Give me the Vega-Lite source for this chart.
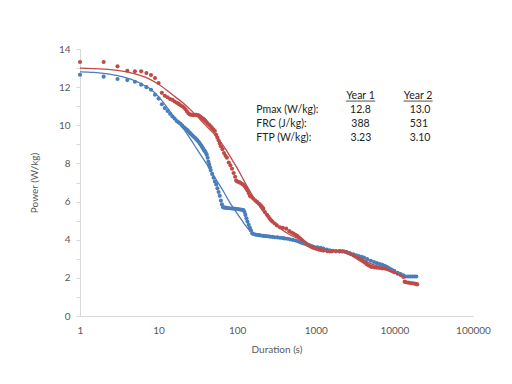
{
  "$schema": "https://vega.github.io/schema/vega-lite/v6.json",
  "width": 393,
  "height": 267,
  "autosize": {"type": "none"},
  "padding": {"left": 80, "top": 49, "right": 39, "bottom": 68},
  "background": "white",
  "config": {
    "view": {"stroke": null},
    "font": "Lato",
    "axis": {"grid": false, "labelFont": "Lato", "titleFont": "Lato", "labelColor": "#595959", "titleColor": "#595959", "labelFontSize": 10, "titleFontSize": 10, "titleFontWeight": "normal", "domainColor": "#d9d9d9", "tickColor": "#d9d9d9", "labelOverlap": false}
  },
  "datasets": {
    "pts": [
      {"year": "Year 1", "t": 1, "p": 12.65}, {"year": "Year 1", "t": 2, "p": 12.55}, {"year": "Year 1", "t": 3, "p": 12.43}, {"year": "Year 1", "t": 4, "p": 12.37}, {"year": "Year 1", "t": 5, "p": 12.28}, {"year": "Year 1", "t": 6, "p": 12.13}, {"year": "Year 1", "t": 7, "p": 12.0}, {"year": "Year 1", "t": 8, "p": 11.86}, {"year": "Year 1", "t": 9, "p": 11.6}, {"year": "Year 1", "t": 10, "p": 11.4},
      {"year": "Year 1", "t": 11, "p": 11.1}, {"year": "Year 1", "t": 12, "p": 10.9}, {"year": "Year 1", "t": 13, "p": 10.75}, {"year": "Year 1", "t": 14, "p": 10.6}, {"year": "Year 1", "t": 15, "p": 10.46}, {"year": "Year 1", "t": 16, "p": 10.35}, {"year": "Year 1", "t": 17, "p": 10.22}, {"year": "Year 1", "t": 18, "p": 10.15}, {"year": "Year 1", "t": 19, "p": 10.08}, {"year": "Year 1", "t": 20, "p": 9.98},
      {"year": "Year 1", "t": 21, "p": 9.9}, {"year": "Year 1", "t": 22, "p": 9.83}, {"year": "Year 1", "t": 23, "p": 9.76}, {"year": "Year 1", "t": 24, "p": 9.68}, {"year": "Year 1", "t": 25, "p": 9.6}, {"year": "Year 1", "t": 26, "p": 9.53}, {"year": "Year 1", "t": 27, "p": 9.46}, {"year": "Year 1", "t": 28, "p": 9.4}, {"year": "Year 1", "t": 29, "p": 9.34}, {"year": "Year 1", "t": 30, "p": 9.28},
      {"year": "Year 1", "t": 31, "p": 9.22}, {"year": "Year 1", "t": 32, "p": 9.15}, {"year": "Year 1", "t": 33, "p": 9.08}, {"year": "Year 1", "t": 34, "p": 9.0}, {"year": "Year 1", "t": 35, "p": 8.93}, {"year": "Year 1", "t": 36, "p": 8.85}, {"year": "Year 1", "t": 37, "p": 8.76}, {"year": "Year 1", "t": 38, "p": 8.68}, {"year": "Year 1", "t": 39, "p": 8.63}, {"year": "Year 1", "t": 40, "p": 8.55},
      {"year": "Year 1", "t": 41, "p": 8.45}, {"year": "Year 1", "t": 42, "p": 8.3}, {"year": "Year 1", "t": 43, "p": 8.1}, {"year": "Year 1", "t": 44, "p": 7.95}, {"year": "Year 1", "t": 45, "p": 7.8}, {"year": "Year 1", "t": 46, "p": 7.65}, {"year": "Year 1", "t": 48, "p": 7.45}, {"year": "Year 1", "t": 50, "p": 7.25}, {"year": "Year 1", "t": 52, "p": 7.05}, {"year": "Year 1", "t": 54, "p": 6.9},
      {"year": "Year 1", "t": 56, "p": 6.7}, {"year": "Year 1", "t": 58, "p": 6.5}, {"year": "Year 1", "t": 60, "p": 6.3}, {"year": "Year 1", "t": 62, "p": 6.05}, {"year": "Year 1", "t": 64, "p": 5.85}, {"year": "Year 1", "t": 66, "p": 5.7}, {"year": "Year 1", "t": 68, "p": 5.69}, {"year": "Year 1", "t": 70, "p": 5.68}, {"year": "Year 1", "t": 73, "p": 5.67}, {"year": "Year 1", "t": 76, "p": 5.66},
      {"year": "Year 1", "t": 80, "p": 5.65}, {"year": "Year 1", "t": 85, "p": 5.64}, {"year": "Year 1", "t": 90, "p": 5.63}, {"year": "Year 1", "t": 95, "p": 5.62}, {"year": "Year 1", "t": 100, "p": 5.61}, {"year": "Year 1", "t": 105, "p": 5.6}, {"year": "Year 1", "t": 110, "p": 5.58}, {"year": "Year 1", "t": 115, "p": 5.57}, {"year": "Year 1", "t": 120, "p": 5.55}, {"year": "Year 1", "t": 124, "p": 5.45},
      {"year": "Year 1", "t": 127, "p": 5.3}, {"year": "Year 1", "t": 131, "p": 5.12}, {"year": "Year 1", "t": 135, "p": 4.95}, {"year": "Year 1", "t": 140, "p": 4.78}, {"year": "Year 1", "t": 145, "p": 4.62}, {"year": "Year 1", "t": 150, "p": 4.48}, {"year": "Year 1", "t": 155, "p": 4.34}, {"year": "Year 1", "t": 160, "p": 4.3}, {"year": "Year 1", "t": 170, "p": 4.27}, {"year": "Year 1", "t": 180, "p": 4.25},
      {"year": "Year 1", "t": 190, "p": 4.24}, {"year": "Year 1", "t": 200, "p": 4.22}, {"year": "Year 1", "t": 215, "p": 4.2}, {"year": "Year 1", "t": 230, "p": 4.19}, {"year": "Year 1", "t": 245, "p": 4.18}, {"year": "Year 1", "t": 260, "p": 4.16}, {"year": "Year 1", "t": 280, "p": 4.15}, {"year": "Year 1", "t": 300, "p": 4.13}, {"year": "Year 1", "t": 325, "p": 4.12}, {"year": "Year 1", "t": 350, "p": 4.1},
      {"year": "Year 1", "t": 375, "p": 4.09}, {"year": "Year 1", "t": 400, "p": 4.07}, {"year": "Year 1", "t": 435, "p": 4.05}, {"year": "Year 1", "t": 470, "p": 4.02}, {"year": "Year 1", "t": 510, "p": 3.99}, {"year": "Year 1", "t": 550, "p": 3.96}, {"year": "Year 1", "t": 590, "p": 3.92}, {"year": "Year 1", "t": 630, "p": 3.87}, {"year": "Year 1", "t": 670, "p": 3.83}, {"year": "Year 1", "t": 720, "p": 3.79},
      {"year": "Year 1", "t": 780, "p": 3.74}, {"year": "Year 1", "t": 840, "p": 3.69}, {"year": "Year 1", "t": 900, "p": 3.65}, {"year": "Year 1", "t": 960, "p": 3.62}, {"year": "Year 1", "t": 1050, "p": 3.6}, {"year": "Year 1", "t": 1150, "p": 3.57}, {"year": "Year 1", "t": 1250, "p": 3.53}, {"year": "Year 1", "t": 1380, "p": 3.48}, {"year": "Year 1", "t": 1500, "p": 3.44}, {"year": "Year 1", "t": 1650, "p": 3.42},
      {"year": "Year 1", "t": 1800, "p": 3.41}, {"year": "Year 1", "t": 2000, "p": 3.4}, {"year": "Year 1", "t": 2200, "p": 3.39}, {"year": "Year 1", "t": 2450, "p": 3.35}, {"year": "Year 1", "t": 2700, "p": 3.3}, {"year": "Year 1", "t": 3000, "p": 3.23}, {"year": "Year 1", "t": 3250, "p": 3.18}, {"year": "Year 1", "t": 3500, "p": 3.14}, {"year": "Year 1", "t": 3800, "p": 3.1}, {"year": "Year 1", "t": 4100, "p": 3.06},
      {"year": "Year 1", "t": 4500, "p": 2.98}, {"year": "Year 1", "t": 5000, "p": 2.9}, {"year": "Year 1", "t": 5500, "p": 2.83}, {"year": "Year 1", "t": 6000, "p": 2.77}, {"year": "Year 1", "t": 6500, "p": 2.72}, {"year": "Year 1", "t": 7000, "p": 2.68}, {"year": "Year 1", "t": 7500, "p": 2.63}, {"year": "Year 1", "t": 8000, "p": 2.58}, {"year": "Year 1", "t": 8500, "p": 2.52}, {"year": "Year 1", "t": 9000, "p": 2.45},
      {"year": "Year 1", "t": 9500, "p": 2.4}, {"year": "Year 1", "t": 10000, "p": 2.35}, {"year": "Year 1", "t": 11000, "p": 2.27}, {"year": "Year 1", "t": 12000, "p": 2.2}, {"year": "Year 1", "t": 13000, "p": 2.13}, {"year": "Year 1", "t": 14000, "p": 2.07}, {"year": "Year 1", "t": 15000, "p": 2.07}, {"year": "Year 1", "t": 16000, "p": 2.07}, {"year": "Year 1", "t": 17000, "p": 2.07}, {"year": "Year 1", "t": 18000, "p": 2.07}, {"year": "Year 1", "t": 19000, "p": 2.07},
      {"year": "Year 2", "t": 1, "p": 13.32}, {"year": "Year 2", "t": 2, "p": 13.32}, {"year": "Year 2", "t": 3, "p": 13.09}, {"year": "Year 2", "t": 4, "p": 12.86}, {"year": "Year 2", "t": 5, "p": 12.83}, {"year": "Year 2", "t": 6, "p": 12.83}, {"year": "Year 2", "t": 7, "p": 12.74}, {"year": "Year 2", "t": 8, "p": 12.64}, {"year": "Year 2", "t": 9, "p": 12.48}, {"year": "Year 2", "t": 10, "p": 12.22},
      {"year": "Year 2", "t": 11, "p": 11.7}, {"year": "Year 2", "t": 12, "p": 11.55}, {"year": "Year 2", "t": 13, "p": 11.47}, {"year": "Year 2", "t": 14, "p": 11.38}, {"year": "Year 2", "t": 15, "p": 11.33}, {"year": "Year 2", "t": 16, "p": 11.25}, {"year": "Year 2", "t": 17, "p": 11.18}, {"year": "Year 2", "t": 18, "p": 11.12}, {"year": "Year 2", "t": 19, "p": 11.05}, {"year": "Year 2", "t": 20, "p": 11.0},
      {"year": "Year 2", "t": 21, "p": 10.93}, {"year": "Year 2", "t": 22, "p": 10.84}, {"year": "Year 2", "t": 23, "p": 10.72}, {"year": "Year 2", "t": 24, "p": 10.62}, {"year": "Year 2", "t": 25, "p": 10.57}, {"year": "Year 2", "t": 26, "p": 10.55}, {"year": "Year 2", "t": 27, "p": 10.55}, {"year": "Year 2", "t": 28, "p": 10.53}, {"year": "Year 2", "t": 29, "p": 10.55}, {"year": "Year 2", "t": 30, "p": 10.55},
      {"year": "Year 2", "t": 31, "p": 10.54}, {"year": "Year 2", "t": 32, "p": 10.52}, {"year": "Year 2", "t": 33, "p": 10.49}, {"year": "Year 2", "t": 34, "p": 10.45}, {"year": "Year 2", "t": 35, "p": 10.41}, {"year": "Year 2", "t": 36, "p": 10.37}, {"year": "Year 2", "t": 37, "p": 10.33}, {"year": "Year 2", "t": 38, "p": 10.3}, {"year": "Year 2", "t": 39, "p": 10.25}, {"year": "Year 2", "t": 40, "p": 10.2},
      {"year": "Year 2", "t": 42, "p": 10.1}, {"year": "Year 2", "t": 44, "p": 10.02}, {"year": "Year 2", "t": 46, "p": 9.95}, {"year": "Year 2", "t": 48, "p": 9.85}, {"year": "Year 2", "t": 50, "p": 9.78}, {"year": "Year 2", "t": 52, "p": 9.7}, {"year": "Year 2", "t": 54, "p": 9.5}, {"year": "Year 2", "t": 56, "p": 9.35}, {"year": "Year 2", "t": 58, "p": 9.2}, {"year": "Year 2", "t": 60, "p": 9.05},
      {"year": "Year 2", "t": 62, "p": 8.9}, {"year": "Year 2", "t": 65, "p": 8.75}, {"year": "Year 2", "t": 68, "p": 8.55}, {"year": "Year 2", "t": 71, "p": 8.4}, {"year": "Year 2", "t": 74, "p": 8.3}, {"year": "Year 2", "t": 78, "p": 8.05}, {"year": "Year 2", "t": 82, "p": 7.9}, {"year": "Year 2", "t": 86, "p": 7.72}, {"year": "Year 2", "t": 90, "p": 7.5}, {"year": "Year 2", "t": 94, "p": 7.3},
      {"year": "Year 2", "t": 97, "p": 7.1}, {"year": "Year 2", "t": 100, "p": 7.05}, {"year": "Year 2", "t": 105, "p": 7.02}, {"year": "Year 2", "t": 110, "p": 6.98}, {"year": "Year 2", "t": 115, "p": 6.93}, {"year": "Year 2", "t": 120, "p": 6.88}, {"year": "Year 2", "t": 125, "p": 6.8}, {"year": "Year 2", "t": 130, "p": 6.7}, {"year": "Year 2", "t": 135, "p": 6.58}, {"year": "Year 2", "t": 140, "p": 6.45},
      {"year": "Year 2", "t": 145, "p": 6.3}, {"year": "Year 2", "t": 150, "p": 6.25}, {"year": "Year 2", "t": 160, "p": 6.15}, {"year": "Year 2", "t": 170, "p": 6.05}, {"year": "Year 2", "t": 180, "p": 5.97}, {"year": "Year 2", "t": 190, "p": 5.88}, {"year": "Year 2", "t": 200, "p": 5.8}, {"year": "Year 2", "t": 210, "p": 5.7}, {"year": "Year 2", "t": 215, "p": 5.62}, {"year": "Year 2", "t": 225, "p": 5.45},
      {"year": "Year 2", "t": 240, "p": 5.3}, {"year": "Year 2", "t": 250, "p": 5.2}, {"year": "Year 2", "t": 260, "p": 5.1}, {"year": "Year 2", "t": 270, "p": 5.02}, {"year": "Year 2", "t": 280, "p": 4.95}, {"year": "Year 2", "t": 300, "p": 4.85}, {"year": "Year 2", "t": 320, "p": 4.75}, {"year": "Year 2", "t": 350, "p": 4.65}, {"year": "Year 2", "t": 380, "p": 4.62}, {"year": "Year 2", "t": 420, "p": 4.58},
      {"year": "Year 2", "t": 460, "p": 4.45}, {"year": "Year 2", "t": 490, "p": 4.38}, {"year": "Year 2", "t": 520, "p": 4.32}, {"year": "Year 2", "t": 550, "p": 4.26}, {"year": "Year 2", "t": 580, "p": 4.2}, {"year": "Year 2", "t": 610, "p": 4.12}, {"year": "Year 2", "t": 640, "p": 4.05}, {"year": "Year 2", "t": 670, "p": 3.97}, {"year": "Year 2", "t": 700, "p": 3.9}, {"year": "Year 2", "t": 740, "p": 3.82},
      {"year": "Year 2", "t": 780, "p": 3.75}, {"year": "Year 2", "t": 820, "p": 3.7}, {"year": "Year 2", "t": 860, "p": 3.65}, {"year": "Year 2", "t": 900, "p": 3.6}, {"year": "Year 2", "t": 950, "p": 3.56}, {"year": "Year 2", "t": 1020, "p": 3.52}, {"year": "Year 2", "t": 1100, "p": 3.48}, {"year": "Year 2", "t": 1180, "p": 3.45}, {"year": "Year 2", "t": 1250, "p": 3.43}, {"year": "Year 2", "t": 1400, "p": 3.4},
      {"year": "Year 2", "t": 1500, "p": 3.39}, {"year": "Year 2", "t": 1600, "p": 3.39}, {"year": "Year 2", "t": 1800, "p": 3.39}, {"year": "Year 2", "t": 2000, "p": 3.39}, {"year": "Year 2", "t": 2150, "p": 3.39}, {"year": "Year 2", "t": 2300, "p": 3.38}, {"year": "Year 2", "t": 2450, "p": 3.34}, {"year": "Year 2", "t": 2600, "p": 3.3}, {"year": "Year 2", "t": 2800, "p": 3.24}, {"year": "Year 2", "t": 3000, "p": 3.18},
      {"year": "Year 2", "t": 3200, "p": 3.11}, {"year": "Year 2", "t": 3400, "p": 3.05}, {"year": "Year 2", "t": 3600, "p": 2.98}, {"year": "Year 2", "t": 3800, "p": 2.92}, {"year": "Year 2", "t": 4000, "p": 2.86}, {"year": "Year 2", "t": 4200, "p": 2.8}, {"year": "Year 2", "t": 4450, "p": 2.72}, {"year": "Year 2", "t": 4700, "p": 2.65}, {"year": "Year 2", "t": 5000, "p": 2.6}, {"year": "Year 2", "t": 5200, "p": 2.57},
      {"year": "Year 2", "t": 5600, "p": 2.55}, {"year": "Year 2", "t": 6000, "p": 2.53}, {"year": "Year 2", "t": 6500, "p": 2.52}, {"year": "Year 2", "t": 7000, "p": 2.5}, {"year": "Year 2", "t": 7500, "p": 2.49}, {"year": "Year 2", "t": 8000, "p": 2.47}, {"year": "Year 2", "t": 8500, "p": 2.43}, {"year": "Year 2", "t": 9000, "p": 2.38}, {"year": "Year 2", "t": 9500, "p": 2.34}, {"year": "Year 2", "t": 10000, "p": 2.3},
      {"year": "Year 2", "t": 11000, "p": 2.22}, {"year": "Year 2", "t": 12000, "p": 2.15}, {"year": "Year 2", "t": 13000, "p": 2.05}, {"year": "Year 2", "t": 13500, "p": 1.8}, {"year": "Year 2", "t": 14000, "p": 1.77}, {"year": "Year 2", "t": 15000, "p": 1.75}, {"year": "Year 2", "t": 16000, "p": 1.73}, {"year": "Year 2", "t": 17000, "p": 1.72}, {"year": "Year 2", "t": 18000, "p": 1.7}, {"year": "Year 2", "t": 19000, "p": 1.67}, {"year": "Year 2", "t": 19500, "p": 1.66}
    ],
    "fit": [
      {"year": "Year 1", "t": 1, "p": 12.8}, {"year": "Year 1", "t": 1.5, "p": 12.77}, {"year": "Year 1", "t": 2, "p": 12.72}, {"year": "Year 1", "t": 3, "p": 12.6}, {"year": "Year 1", "t": 4, "p": 12.47}, {"year": "Year 1", "t": 5, "p": 12.33}, {"year": "Year 1", "t": 6, "p": 12.18}, {"year": "Year 1", "t": 7, "p": 12.03}, {"year": "Year 1", "t": 8, "p": 11.88}, {"year": "Year 1", "t": 10, "p": 11.5},
      {"year": "Year 1", "t": 12, "p": 11.1}, {"year": "Year 1", "t": 15, "p": 10.55}, {"year": "Year 1", "t": 20, "p": 9.9}, {"year": "Year 1", "t": 25, "p": 9.33}, {"year": "Year 1", "t": 31, "p": 8.72}, {"year": "Year 1", "t": 38, "p": 8.17}, {"year": "Year 1", "t": 45.5, "p": 7.66}, {"year": "Year 1", "t": 55, "p": 7.1}, {"year": "Year 1", "t": 67, "p": 6.53}, {"year": "Year 1", "t": 80, "p": 5.97},
      {"year": "Year 1", "t": 99, "p": 5.39}, {"year": "Year 1", "t": 120, "p": 4.9}, {"year": "Year 1", "t": 147, "p": 4.45}, {"year": "Year 1", "t": 165, "p": 4.33}, {"year": "Year 1", "t": 200, "p": 4.25}, {"year": "Year 1", "t": 300, "p": 4.13}, {"year": "Year 1", "t": 500, "p": 4.0}, {"year": "Year 1", "t": 700, "p": 3.84}, {"year": "Year 1", "t": 1000, "p": 3.62}, {"year": "Year 1", "t": 1500, "p": 3.46},
      {"year": "Year 1", "t": 2000, "p": 3.38}, {"year": "Year 1", "t": 3000, "p": 3.22}, {"year": "Year 1", "t": 5000, "p": 2.9}, {"year": "Year 1", "t": 8000, "p": 2.58}, {"year": "Year 1", "t": 10000, "p": 2.37}, {"year": "Year 1", "t": 14000, "p": 2.08},
      {"year": "Year 2", "t": 1, "p": 13.0}, {"year": "Year 2", "t": 2, "p": 12.95}, {"year": "Year 2", "t": 3, "p": 12.88}, {"year": "Year 2", "t": 5, "p": 12.7}, {"year": "Year 2", "t": 7, "p": 12.5}, {"year": "Year 2", "t": 10, "p": 12.15}, {"year": "Year 2", "t": 15, "p": 11.6}, {"year": "Year 2", "t": 20.7, "p": 11.15}, {"year": "Year 2", "t": 28, "p": 10.65}, {"year": "Year 2", "t": 40, "p": 9.98},
      {"year": "Year 2", "t": 50, "p": 9.58}, {"year": "Year 2", "t": 60, "p": 9.18}, {"year": "Year 2", "t": 72, "p": 8.72}, {"year": "Year 2", "t": 86, "p": 8.2}, {"year": "Year 2", "t": 100, "p": 7.75}, {"year": "Year 2", "t": 120, "p": 7.15}, {"year": "Year 2", "t": 140, "p": 6.65}, {"year": "Year 2", "t": 163, "p": 6.2}, {"year": "Year 2", "t": 200, "p": 5.65}, {"year": "Year 2", "t": 250, "p": 5.15},
      {"year": "Year 2", "t": 290, "p": 4.9}, {"year": "Year 2", "t": 350, "p": 4.6}, {"year": "Year 2", "t": 450, "p": 4.3}, {"year": "Year 2", "t": 640, "p": 4.0}, {"year": "Year 2", "t": 1000, "p": 3.6}, {"year": "Year 2", "t": 1500, "p": 3.45}, {"year": "Year 2", "t": 2000, "p": 3.39}, {"year": "Year 2", "t": 3000, "p": 3.2}, {"year": "Year 2", "t": 5000, "p": 2.75}, {"year": "Year 2", "t": 8000, "p": 2.45},
      {"year": "Year 2", "t": 10000, "p": 2.3}, {"year": "Year 2", "t": 13000, "p": 2.05}
    ],
    "rowlabels": [
      {"txt": "Pmax (W/kg):", "t": 175, "p": 10.81},
      {"txt": "FRC (J/kg):", "t": 175, "p": 10.08},
      {"txt": "FTP (W/kg):", "t": 175, "p": 9.34}
    ],
    "values": [
      {"txt": "Year 1", "t": 3700, "p": 11.55},
      {"txt": "12.8", "t": 3700, "p": 10.81},
      {"txt": "388", "t": 3700, "p": 10.08},
      {"txt": "3.23", "t": 3750, "p": 9.34},
      {"txt": "Year 2", "t": 20000, "p": 11.55},
      {"txt": "13.0", "t": 21200, "p": 10.81},
      {"txt": "531", "t": 20500, "p": 10.08},
      {"txt": "3.10", "t": 21200, "p": 9.34}
    ],
    "underline": [
      {"t": 2420, "t2": 5710, "p": 11.27},
      {"t": 13090, "t2": 30620, "p": 11.27}
    ]
  },
  "encoding": {
    "x": {"field": "t", "type": "quantitative", "scale": {"type": "log", "domain": [1, 100000]},
      "axis": {"title": "Duration (s)", "values": [1, 10, 100, 1000, 10000, 100000], "format": "d", "ticks": false, "labelPadding": 9, "titlePadding": 9, "labelFlush": false, "labelOverlap": false}},
    "y": {"field": "p", "type": "quantitative", "scale": {"domain": [0, 14], "nice": false},
      "axis": {"title": "Power (W/kg)", "values": [0,1,2,3,4,5,6,7,8,9,10,11,12,13,14], "labelExpr": "datum.value % 2 == 0 ? '' + datum.value : ''", "labelOverlap": false, "tickSize": 4, "labelPadding": 6, "titlePadding": 19}}
  },
  "layer": [
    {
      "data": {"name": "pts"},
      "mark": {"type": "circle", "size": 17, "opacity": 1},
      "encoding": {
        "color": {"field": "year", "type": "nominal", "scale": {"domain": ["Year 1", "Year 2"], "range": ["#4A7EBB", "#BE4B48"]}, "legend": null}
      }
    },
    {
      "data": {"name": "fit"},
      "mark": {"type": "line", "strokeWidth": 1.3, "interpolate": "monotone"},
      "encoding": {
        "color": {"field": "year", "type": "nominal"},
        "detail": {"field": "year"}
      }
    },
    {
      "data": {"name": "rowlabels"},
      "mark": {"type": "text", "fontSize": 10.5, "font": "Lato", "color": "#222222", "baseline": "middle", "align": "left"},
      "encoding": {"text": {"field": "txt"}}
    },
    {
      "data": {"name": "values"},
      "mark": {"type": "text", "fontSize": 10.5, "font": "Lato", "color": "#222222", "baseline": "middle", "align": "center"},
      "encoding": {"text": {"field": "txt"}}
    },
    {
      "data": {"name": "underline"},
      "mark": {"type": "rule", "color": "#222222", "strokeWidth": 0.8},
      "encoding": {"x2": {"field": "t2"}}
    }
  ]
}
